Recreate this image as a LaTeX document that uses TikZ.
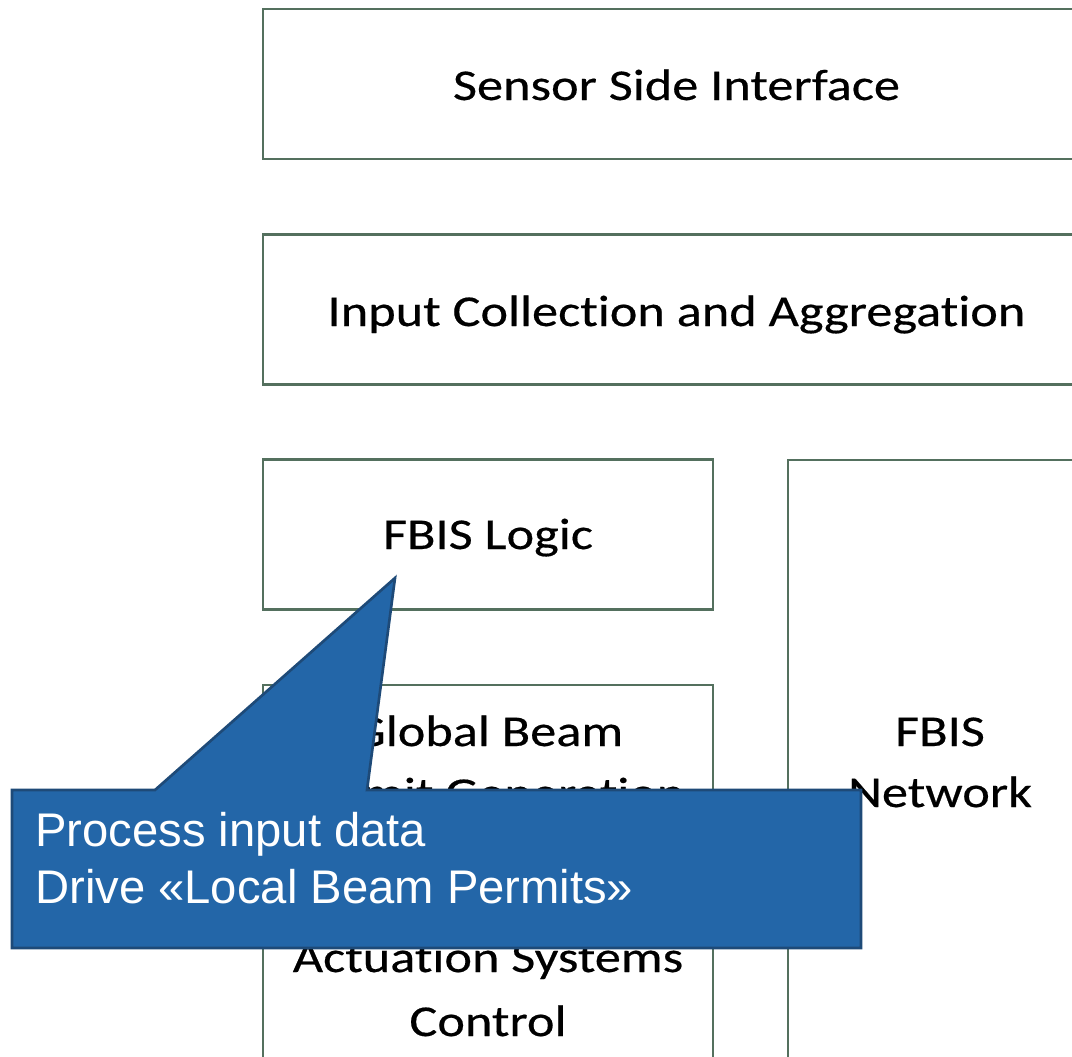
\documentclass[tikz,border=0pt]{standalone}
\usepackage{fontspec}
\newfontfamily\boxfont[FakeStretch=1.19, FakeBold=0.4, Ligatures=NoCommon]{Carlito}
\newfontfamily\notefont{Liberation Sans}
\definecolor{boxline}{RGB}{84,112,94}
\definecolor{notefill}{RGB}{35,102,168}
\definecolor{noteline}{RGB}{30,74,120}
\tikzset{
  block/.style={draw=boxline, line width=2pt, fill=white, rectangle, inner sep=0pt, outer sep=0pt},
  blocktext/.style={font=\boxfont\fontsize{33pt}{40pt}\selectfont, text=black, anchor=base, inner sep=0pt},
  callout/.style={draw=noteline, fill=notefill, line width=2pt, line join=miter},
  notetext/.style={font=\notefont\fontsize{35.4pt}{42pt}\selectfont, text=white, anchor=base west, inner sep=0pt}
}
\begin{document}
\begin{tikzpicture}[x=0.75pt, y=-0.75pt]
\useasboundingbox (0,0) rectangle (1072,1057);
\clip (0,0) rectangle (1072,1057);
\fill[white] (0,0) rectangle (1072,1057);

% layered blocks
\node[block, minimum width=620.25pt, minimum height=112.5pt] (sensor) at (676.5,84) {};
\node[block, minimum width=620.25pt, minimum height=112.5pt] (input) at (676.5,309.5) {};
\node[block, minimum width=337.5pt, minimum height=112.5pt] (logic) at (488,534.5) {};
\node[block, minimum width=337.5pt, minimum height=311.25pt] (permit) at (488,892.5) {};
\node[block, minimum width=226.5pt, minimum height=480pt] (network) at (939,780) {};

% block captions
\node[blocktext] (sensorT) at (676.5,100) {Sensor Side Interface};
\node[blocktext] (inputT) at (676.5,326) {Input Collection and Aggregation};
\node[blocktext] (logicT) at (488,549) {FBIS Logic};
\node[blocktext] (permitA) at (488,746) {Global Beam};
\node[blocktext] (permitB) at (488,808) {Permit Generation};
\node[blocktext] (permitC) at (488,972) {Actuation Systems};
\node[blocktext] (permitD) at (488,1036) {Control};
\node[blocktext] (networkA) at (940,746) {FBIS};
\node[blocktext] (networkB) at (940,807) {Network};

% callout pointing at the logic block
\coordinate (tip) at (395,578);
\draw[callout] (12,790) -- (155,790) -- (tip) -- (367,790) -- (861,790)
  -- (861,948) -- (12,948) -- cycle;
\node[notetext] (note1) at (35,846) {Process input data};
\node[notetext] (note2) at (35,903) {Drive «Local Beam Permits»};
\end{tikzpicture}
\end{document}
